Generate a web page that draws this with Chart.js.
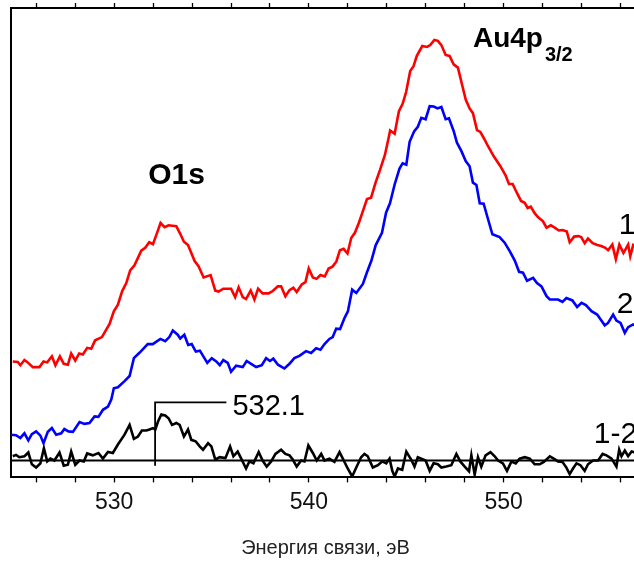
<!DOCTYPE html>
<html>
<head>
<meta charset="utf-8">
<script src="https://cdn.jsdelivr.net/npm/chart.js@4.4.1/dist/chart.umd.min.js"></script>
<style>
  html, body { margin: 0; padding: 0; background: #fff; overflow: hidden; }
  #wrap { width: 660px; height: 562px; }
</style>
</head>
<body>
<div id="wrap"><canvas id="xps" width="660" height="562"></canvas></div>
<script>
// O1s / Au4p3/2 region, spectra 1 and 2 and their difference 1-2
var redEnergy = [
  524.79, 525.05, 525.18, 525.39, 525.56, 525.82, 526.16, 526.37, 526.56, 526.80,
  526.98, 527.21, 527.41, 527.62, 527.79, 528.00, 528.20, 528.39, 528.61, 528.82,
  529.02, 529.37, 529.76, 529.98, 530.19, 530.41, 530.62, 530.82, 531.04, 531.39,
  531.59, 531.80, 531.99, 532.20, 532.38, 532.59, 532.79, 533.19, 533.39, 533.58,
  533.79, 534.13, 534.33, 534.59, 534.95, 535.19, 535.36, 535.60, 536.00, 536.21,
  536.39, 536.60, 536.77, 537.01, 537.20, 537.39, 537.62, 537.93, 538.14, 538.40,
  538.57, 538.79, 539.00, 539.20, 539.37, 539.63, 539.82, 539.99, 540.20, 540.39,
  540.59, 540.81, 541.01, 541.21, 541.41, 541.59, 541.78, 541.98, 542.17, 542.36,
  542.57, 542.80, 542.98, 543.19, 543.42, 543.65, 543.90, 544.09, 544.17, 544.40,
  544.62, 544.81, 544.99, 545.20, 545.37, 545.54, 545.82, 546.06, 546.23, 546.44,
  546.62, 546.80, 547.02, 547.22, 547.43, 547.65, 547.86, 548.05, 548.25, 548.42,
  548.63, 548.80, 548.99, 549.19, 549.49, 549.83, 550.09, 550.27, 550.46, 550.68,
  550.89, 551.08, 551.23, 551.39, 551.59, 551.77, 552.01, 552.20, 552.42, 552.62,
  552.83, 553.03, 553.24, 553.39, 553.62, 553.83, 553.98, 554.16, 554.33, 554.57,
  554.81, 555.01, 555.22, 555.36, 555.58, 555.76, 555.94, 556.15, 556.39, 556.50,
  556.65, 557.00
];
var redIntensity = [
  24.7, 24.6, 23.9, 25.0, 24.5, 23.5, 23.5, 24.7, 24.5, 25.8,
  23.9, 25.8, 24.2, 24.0, 26.4, 24.9, 26.4, 26.2, 27.6, 27.4,
  29.2, 29.9, 32.7, 35.4, 36.8, 39.7, 41.4, 44.1, 45.2, 48.3,
  48.9, 50.1, 49.7, 52.1, 54.2, 53.3, 53.7, 53.5, 51.9, 50.2,
  49.5, 46.1, 45.0, 42.6, 43.1, 39.8, 39.6, 40.2, 40.2, 38.4,
  40.5, 38.4, 38.0, 39.8, 37.9, 40.2, 39.2, 39.2, 39.7, 40.7,
  40.7, 38.6, 39.9, 40.4, 39.5, 41.1, 41.6, 44.5, 42.6, 42.3,
  43.1, 42.8, 44.5, 44.9, 46.0, 48.4, 48.7, 47.7, 51.0, 52.1,
  54.3, 57.1, 59.3, 59.6, 62.8, 65.5, 68.7, 72.3, 73.9, 73.2,
  78.0, 79.6, 82.1, 86.6, 87.6, 89.8, 91.9, 91.7, 92.1, 93.2,
  93.0, 92.1, 90.0, 89.8, 88.0, 87.3, 83.7, 80.5, 78.6, 77.6,
  74.0, 73.6, 72.2, 70.6, 68.4, 66.3, 64.4, 62.5, 62.5, 60.6,
  58.9, 58.5, 57.4, 57.7, 56.3, 55.4, 54.6, 53.2, 53.7, 53.2,
  52.6, 52.7, 52.4, 50.1, 51.3, 51.4, 51.2, 49.9, 50.9, 49.9,
  49.5, 49.3, 48.9, 48.4, 49.6, 46.5, 49.6, 47.8, 49.6, 47.1,
  49.5, 48.6
];

var blueEnergy = [
  524.70, 524.96, 525.18, 525.39, 525.59, 525.77, 525.99, 526.21, 526.37, 526.59,
  526.80, 527.02, 527.28, 527.44, 527.65, 527.88, 528.22, 528.47, 528.73, 528.99,
  529.19, 529.42, 529.68, 529.85, 529.98, 530.19, 530.53, 530.79, 531.01, 531.31,
  531.72, 531.98, 532.37, 532.62, 532.83, 533.01, 533.26, 533.39, 533.60, 533.80,
  533.98, 534.19, 534.40, 534.78, 535.01, 535.24, 535.42, 535.60, 535.83, 536.00,
  536.26, 536.60, 536.80, 537.03, 537.29, 537.58, 537.80, 538.00, 538.17, 538.41,
  538.74, 539.00, 539.25, 539.51, 539.85, 540.11, 540.37, 540.59, 540.80, 541.05,
  541.22, 541.40, 541.60, 541.83, 542.00, 542.22, 542.43, 542.77, 542.98, 543.20,
  543.43, 543.75, 543.96, 544.16, 544.40, 544.65, 544.81, 545.00, 545.17, 545.40,
  545.59, 545.77, 545.99, 546.20, 546.41, 546.60, 546.80, 547.02, 547.19, 547.43,
  547.60, 547.83, 548.05, 548.25, 548.42, 548.60, 548.77, 548.97, 549.19, 549.42,
  549.79, 550.05, 550.31, 550.57, 550.79, 550.99, 551.20, 551.51, 551.71, 551.94,
  552.20, 552.37, 552.79, 553.02, 553.22, 553.53, 553.77, 554.00, 554.22, 554.51,
  554.80, 555.19, 555.36, 555.62, 555.79, 556.00, 556.22, 556.39, 556.65, 557.00
];
var blueIntensity = [
  9.1, 9.0, 8.4, 9.4, 7.9, 9.2, 9.8, 8.9, 7.3, 9.7,
  10.5, 9.1, 9.4, 10.3, 9.8, 9.7, 11.8, 11.4, 11.6, 13.0,
  12.9, 14.4, 15.1, 16.6, 19.0, 19.2, 20.5, 21.6, 25.4, 26.6,
  28.4, 28.4, 29.5, 29.0, 29.9, 31.3, 30.4, 29.6, 30.4, 28.2,
  28.4, 26.8, 27.0, 24.4, 25.4, 24.7, 23.9, 25.0, 24.4, 22.5,
  23.8, 23.5, 24.8, 24.2, 23.5, 23.9, 25.4, 24.8, 25.3, 24.0,
  23.2, 24.2, 25.4, 25.9, 26.9, 26.5, 27.5, 27.2, 28.4, 29.5,
  29.9, 31.7, 31.6, 34.0, 35.4, 40.0, 39.3, 41.2, 43.7, 46.1,
  49.5, 52.1, 56.4, 58.4, 62.4, 65.8, 66.9, 66.6, 71.5, 73.7,
  74.7, 76.6, 76.3, 79.1, 79.0, 78.6, 78.9, 76.3, 76.5, 73.8,
  71.3, 69.5, 67.4, 66.3, 62.8, 62.3, 58.4, 58.3, 55.1, 51.8,
  51.2, 50.0, 48.2, 46.2, 43.8, 43.6, 41.9, 42.5, 41.4, 40.7,
  38.6, 37.9, 37.9, 37.4, 38.2, 37.7, 36.3, 37.2, 36.7, 35.4,
  34.7, 32.4, 32.9, 34.7, 33.4, 32.9, 30.8, 32.0, 32.6, 31.8
];

var diffEnergy = [
  524.79, 524.96, 525.13, 525.39, 525.59, 525.77, 525.99, 526.21, 526.39, 526.56,
  526.72, 526.93, 527.19, 527.41, 527.62, 527.79, 528.00, 528.22, 528.44, 528.61,
  528.90, 529.19, 529.42, 529.68, 529.93, 530.19, 530.53, 530.79, 531.01, 531.22,
  531.42, 531.65, 531.81, 531.99, 532.11, 532.25, 532.42, 532.62, 532.79, 532.97,
  533.19, 533.36, 533.58, 533.79, 533.96, 534.18, 534.39, 534.56, 534.82, 534.99,
  535.19, 535.41, 535.71, 535.95, 536.12, 536.34, 536.51, 536.77, 536.94, 537.15,
  537.42, 537.62, 537.83, 538.06, 538.28, 538.57, 538.79, 539.00, 539.17, 539.37,
  539.60, 539.77, 539.97, 540.20, 540.40, 540.63, 540.80, 541.05, 541.31, 541.57,
  541.74, 541.99, 542.22, 542.43, 542.68, 542.85, 543.02, 543.28, 543.54, 543.76,
  543.97, 544.14, 544.28, 544.40, 544.57, 544.79, 545.00, 545.25, 545.42, 545.59,
  545.99, 546.20, 546.40, 546.62, 546.80, 547.05, 547.31, 547.57, 547.77, 548.00,
  548.22, 548.34, 548.51, 548.68, 548.85, 549.07, 549.32, 549.54, 549.71, 549.96,
  550.17, 550.40, 550.62, 550.82, 551.08, 551.34, 551.59, 551.85, 552.06, 552.37,
  552.57, 552.79, 553.02, 553.22, 553.39, 553.56, 553.74, 553.94, 554.16, 554.33,
  554.59, 554.85, 555.08, 555.28, 555.54, 555.79, 555.93, 556.05, 556.22, 556.39,
  556.57, 557.00
];
var diffIntensity = [
  4.5, 4.8, 4.3, 4.5, 5.3, 2.8, 2.1, 3.0, 6.2, 3.4,
  4.0, 3.6, 5.3, 2.5, 2.7, 5.5, 2.7, 3.6, 3.4, 5.1,
  4.7, 5.2, 4.0, 5.4, 5.2, 7.0, 9.1, 11.2, 8.2, 8.7,
  10.0, 10.0, 10.2, 10.5, 10.2, 11.9, 13.4, 13.2, 12.6, 11.2,
  11.6, 11.2, 8.7, 10.2, 8.0, 7.7, 6.6, 5.9, 7.3, 6.6,
  3.8, 4.3, 4.1, 6.6, 4.5, 5.5, 4.1, 1.9, 3.4, 3.0,
  5.4, 3.6, 2.3, 3.4, 5.0, 5.9, 5.0, 4.7, 3.8, 2.3,
  3.6, 3.4, 6.8, 5.2, 3.6, 5.0, 3.6, 4.0, 3.3, 5.4,
  4.0, 1.9, 0.2, 2.1, 4.3, 5.0, 4.5, 2.1, 2.6, 3.4,
  3.0, 4.0, 1.4, 0.2, 1.9, 1.6, 5.5, 3.8, 2.3, 4.3,
  3.6, 1.4, 3.0, 2.8, 2.1, 2.3, 2.6, 5.0, 3.4, 2.3,
  1.3, 4.7, 0.6, 4.3, 2.3, 4.7, 5.4, 4.5, 3.6, 3.0,
  1.4, 3.4, 3.0, 4.0, 4.3, 4.0, 2.8, 2.8, 3.3, 4.5,
  4.0, 3.4, 3.3, 2.1, 0.7, 1.9, 3.0, 2.6, 1.4, 2.8,
  3.6, 3.6, 5.0, 4.7, 4.0, 2.3, 5.9, 4.5, 5.7, 4.5,
  5.5, 5.0
];

var diffZero = 3.6;        // zero level of the difference curve
var peakEnergy = 532.1;    // O1s position in the difference spectrum
var energyMin = 524.7;
var energyMax = 557;

var FONT = "Arial, 'Liberation Sans', sans-serif";

function toPoints(xs, ys) {
  return xs.map(function (x, i) { return { x: x, y: ys[i] }; });
}

// labels, the 532.1 marker and the zero line of 1-2
var overlay = {
  id: 'overlay',
  afterDatasetsDraw: function (chart) {
    var c = chart.ctx, sx = chart.scales.x, sy = chart.scales.y;
    c.save();
    c.strokeStyle = '#000';
    c.lineWidth = 1.8;
    c.beginPath();
    c.moveTo(sx.getPixelForValue(energyMin), sy.getPixelForValue(diffZero));
    c.lineTo(sx.getPixelForValue(energyMax), sy.getPixelForValue(diffZero));
    c.stroke();

    var px = sx.getPixelForValue(peakEnergy);
    c.lineWidth = 1.8;
    c.beginPath();
    c.moveTo(px, sy.getPixelForValue(2.5));
    c.lineTo(px, sy.getPixelForValue(16.0));
    c.lineTo(sx.getPixelForValue(535.76), sy.getPixelForValue(16.0));
    c.stroke();

    c.fillStyle = '#000';
    c.textAlign = 'left';
    c.textBaseline = 'alphabetic';
    c.font = '29px ' + FONT;
    c.fillText(peakEnergy.toFixed(1), sx.getPixelForValue(536.07), sy.getPixelForValue(13.4));

    c.font = 'bold 30px ' + FONT;
    c.fillText('O1s', sx.getPixelForValue(531.75), sy.getPixelForValue(62.5));

    var ax = sx.getPixelForValue(548.42), ay = sy.getPixelForValue(91.7);
    c.font = 'bold 28px ' + FONT;
    c.fillText('Au4p', ax, ay);
    var w = c.measureText('Au4p').width;
    c.font = 'bold 20px ' + FONT;
    c.fillText('3/2', ax + w + 2, ay + 14);

    c.font = '30px ' + FONT;
    c.fillText('1', sx.getPixelForValue(555.91), sy.getPixelForValue(51.8));
    c.fillText('2', sx.getPixelForValue(555.81), sy.getPixelForValue(35.0));
    c.fillText('1-2', sx.getPixelForValue(554.63), sy.getPixelForValue(7.3));
    c.restore();
  }
};

function lineSet(label, xs, ys, color) {
  return {
    label: label,
    data: toPoints(xs, ys),
    borderColor: color,
    borderWidth: 2.6,
    pointRadius: 0,
    tension: 0,
    fill: false
  };
}

var tickGrid = {
  drawOnChartArea: false,
  drawTicks: true,
  tickLength: 5,
  tickColor: '#000',
  tickWidth: 1.3
};

new Chart(document.getElementById('xps').getContext('2d'), {
  type: 'line',
  data: {
    datasets: [
      lineSet('1', redEnergy, redIntensity, '#ff0000'),
      lineSet('2', blueEnergy, blueIntensity, '#0000ff'),
      lineSet('1-2', diffEnergy, diffIntensity, '#000000')
    ]
  },
  options: {
    responsive: false,
    animation: false,
    layout: { padding: { left: 11, right: 20, top: 3, bottom: 0 } },
    plugins: { legend: { display: false }, tooltip: { enabled: false } },
    scales: {
      x: {
        type: 'linear',
        position: 'bottom',
        min: energyMin,
        max: energyMax,
        grid: tickGrid,
        border: { display: true, color: '#000', width: 2 },
        ticks: {
          stepSize: 2,
          includeBounds: false,
          autoSkip: false,
          maxRotation: 0,
          padding: 6,
          color: '#111',
          font: { family: FONT, size: 23 },
          callback: function (v) {
            return Math.abs(v % 10) < 1e-6 ? Math.round(v) : '';
          }
        },
        title: {
          display: true,
          text: 'Энергия связи, эВ',
          color: '#222',
          font: { family: FONT, size: 20 },
          padding: { top: 14, bottom: 2 }
        }
      },
      xTop: {
        type: 'linear',
        position: 'top',
        min: energyMin,
        max: energyMax,
        grid: tickGrid,
        border: { display: true, color: '#000', width: 2 },
        ticks: { stepSize: 2, includeBounds: false, display: false }
      },
      y: {
        min: 0,
        max: 100,
        grid: { drawOnChartArea: false, drawTicks: false },
        border: { display: true, color: '#000', width: 2 },
        ticks: { display: false }
      }
    }
  },
  plugins: [overlay]
});
</script>
</body>
</html>
